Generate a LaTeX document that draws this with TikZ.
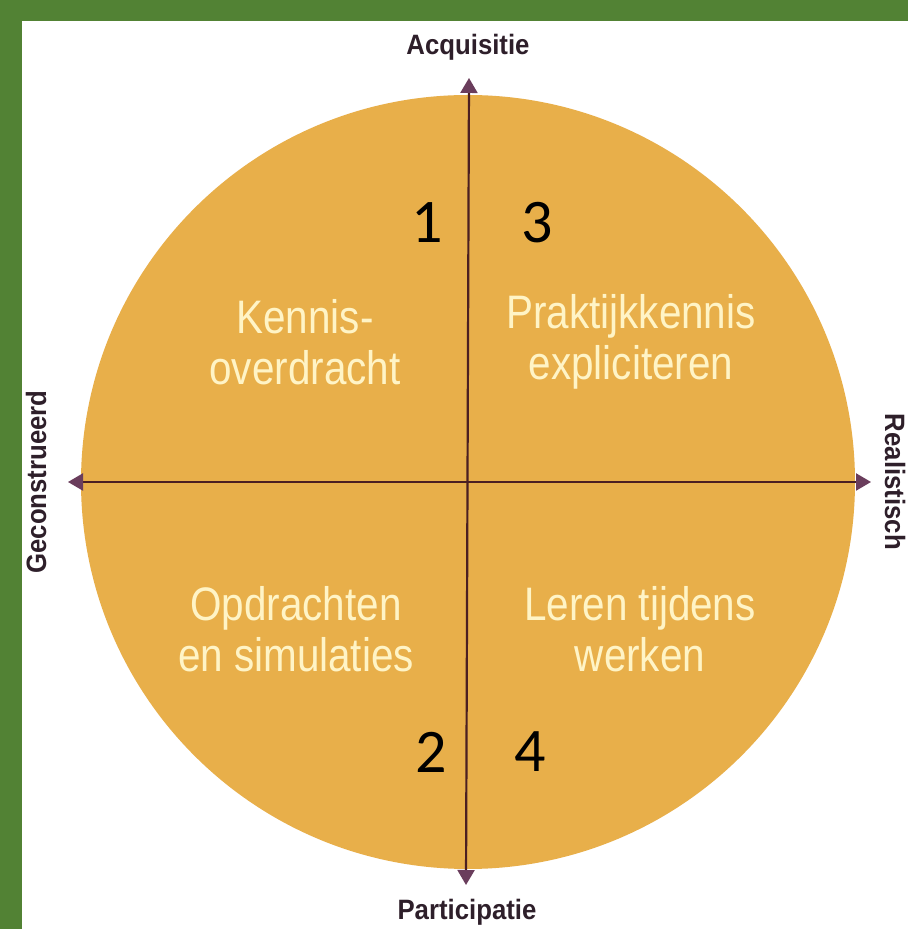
\documentclass[tikz,border=0pt]{standalone}
\usepackage{fontspec}
\usetikzlibrary{arrows.meta}
\newfontfamily\quadfont[FakeStretch=0.86]{Liberation Sans}
\newfontfamily\axisfont[FakeStretch=0.92]{Liberation Sans Bold}
\newfontfamily\numfont{Carlito}
\definecolor{bandgreen}{HTML}{528234}
\definecolor{discgold}{HTML}{E8AF4A}
\definecolor{axisbrown}{HTML}{4B1F22}
\definecolor{tipplum}{HTML}{6A3D5C}
\definecolor{labeldark}{HTML}{2E1F2A}
\definecolor{quadcream}{HTML}{FFF4C6}
\begin{document}
\begin{tikzpicture}[x=1pt,y=1pt,
  axis/.style={line width=2.2pt,draw=axisbrown,
    arrows={Triangle[length=15pt,width=17pt,color=tipplum]-Triangle[length=15pt,width=17pt,color=tipplum]}},
  axislabel/.style={text=labeldark,font=\axisfont\fontsize{28}{30}\selectfont,inner sep=0pt},
  quadrant/.style={text=quadcream,align=center,font=\quadfont\fontsize{47}{51}\selectfont,inner sep=0pt},
  number/.style={text=black,font=\numfont\fontsize{62}{64}\selectfont,inner sep=0pt}]
\useasboundingbox (0,0) rectangle (908,929);
\fill[white] (0,0) rectangle (908,929);
\fill[bandgreen] (0,908) rectangle (908,929);
\fill[bandgreen] (0,0) rectangle (22,929);
\fill[discgold] (468,447) circle (387);
\coordinate (north) at (469,851);
\coordinate (south) at (466,44);
\coordinate (west) at (68,447);
\coordinate (east) at (871,447);
\draw[axis] (west) -- (east);
\draw[axis] (south) -- (north);
\node[axislabel] (acq) at (468,882) {Acquisitie};
\node[axislabel] (part) at (467,17) {Participatie};
\node[axislabel,rotate=90] (gec) at (36,447) {Geconstrueerd};
\node[axislabel,rotate=-90] (real) at (895,447) {Realistisch};
\node[quadrant] (kennis) at (305,587) {Kennis-\\overdracht};
\node[quadrant] (prakt) at (631,587) {Praktijkkennis\\expliciteren};
\node[quadrant] (opdr) at (296,300) {Opdrachten\\en simulaties};
\node[quadrant] (leren) at (640,300) {Leren tijdens\\werken};
\node[number] (n1) at (427,706) {1};
\node[number] (n3) at (537,706) {3};
\node[number] (n2) at (431,177) {2};
\node[number] (n4) at (530,177) {4};
\end{tikzpicture}
\end{document}
